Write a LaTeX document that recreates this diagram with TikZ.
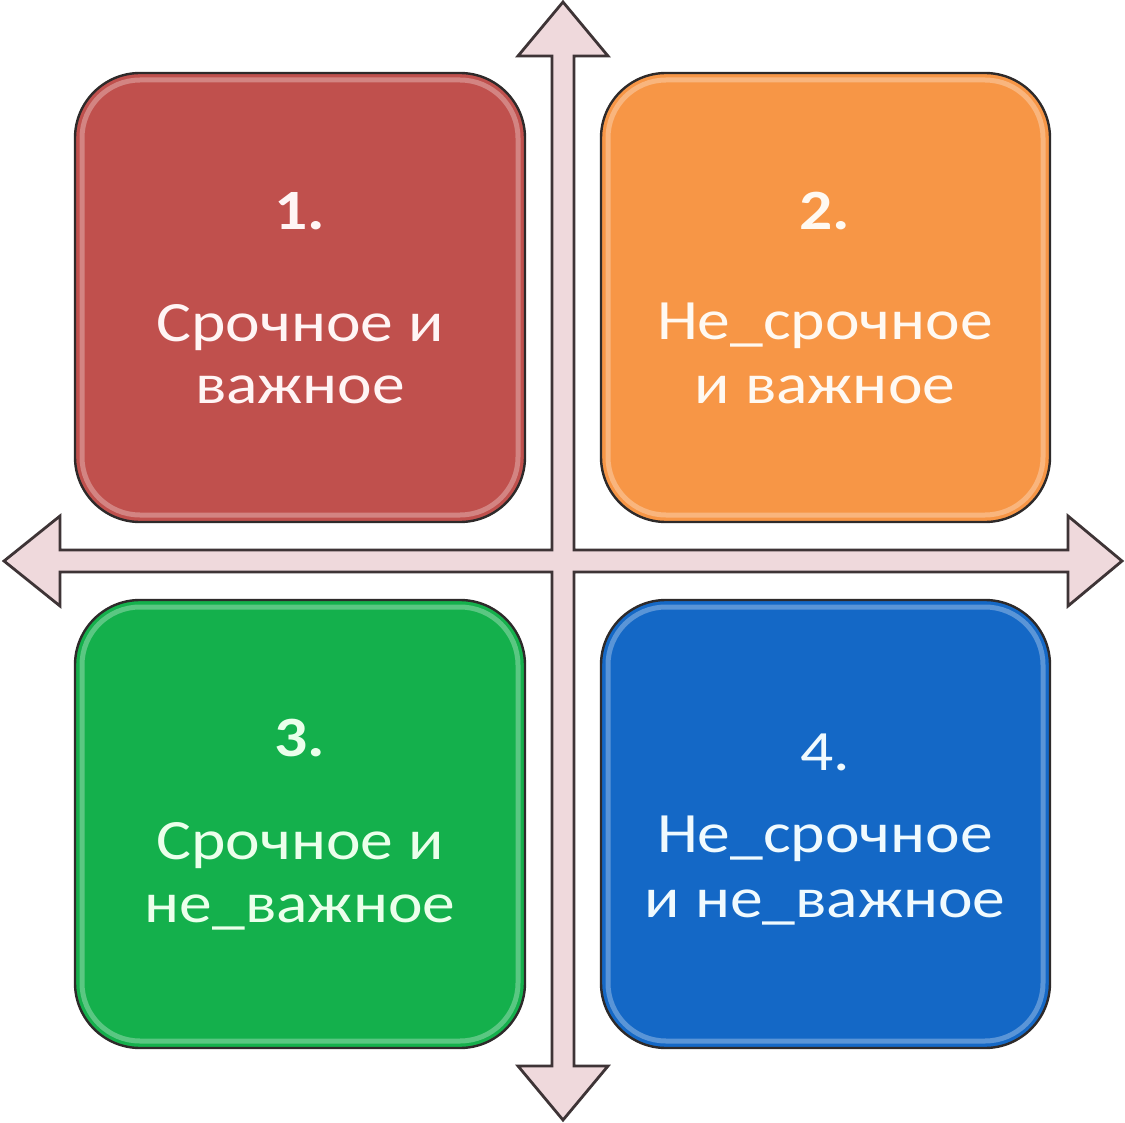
\documentclass[tikz,border=0pt]{standalone}
\usepackage{fontspec}
\newfontfamily\calf[FakeStretch=1.15]{Carlito}
\definecolor{redbox}{HTML}{C0504D}
\definecolor{orangebox}{HTML}{F79646}
\definecolor{greenbox}{HTML}{14B04C}
\definecolor{bluebox}{HTML}{1468C6}
\definecolor{axisfill}{HTML}{EFD9DC}
\definecolor{axisline}{HTML}{3E3436}
\definecolor{rimdark}{HTML}{2E2A2A}
\tikzset{
  quad/.style={draw=rimdark, line width=1.2pt, rounded corners=32.5pt},
  rim/.style={draw=white, draw opacity=0.3, line width=2.5pt, rounded corners=29pt},
  numtxt/.style={anchor=base, inner sep=0pt, font=\calf\fontsize{28.5}{33}\selectfont\bfseries},
  numtxtr/.style={anchor=base, inner sep=0pt, font=\calf\fontsize{28.5}{33}\selectfont},
  linetxt/.style={anchor=base, inner sep=0pt, font=\calf\fontsize{28.5}{33}\selectfont}
}
\begin{document}
\begin{tikzpicture}[x=0.5pt,y=-0.5pt]
\useasboundingbox (0,0) rectangle (1125,1123);
\fill[white] (0,0) rectangle (1125,1123);
% axes cross
\draw[axisline, fill=axisfill, line width=1.4pt, line join=miter]
  (563,2) -- (608,56) -- (574,56) -- (574,550) -- (1068,550) -- (1068,516)
  -- (1122,561) -- (1068,606) -- (1068,572) -- (574,572) -- (574,1066)
  -- (608,1066) -- (563,1120) -- (518,1066) -- (552,1066) -- (552,572)
  -- (60,572) -- (60,606) -- (4,561) -- (60,516) -- (60,550) -- (552,550)
  -- (552,56) -- (518,56) -- cycle;
% boxes
\path[quad, fill=redbox] (75,73) rectangle (525,522);
\path[rim] (82,80) rectangle (518,515);
\path[quad, fill=orangebox] (601,73) rectangle (1050,522);
\path[rim] (608,80) rectangle (1043,515);
\path[quad, fill=greenbox] (75,600) rectangle (525,1048);
\path[rim] (82,607) rectangle (518,1041);
\path[quad, fill=bluebox] (601,600) rectangle (1050,1048);
\path[rim] (608,607) rectangle (1043,1041);
% texts box 1
\node[numtxt, text=red!4!white] (n1) at (300,230) {1.};
\node[linetxt, text=red!4!white] (t1a) at (300,342) {Срочное и};
\node[linetxt, text=red!4!white] (t1b) at (300,403) {важное};
% box 2
\node[numtxt, text=orange!5!white] (n2) at (825,230) {2.};
\node[linetxt, text=orange!5!white] (t2a) at (825,340) {Не\_срочное};
\node[linetxt, text=orange!5!white] (t2b) at (825,403) {и важное};
% box 3
\node[numtxt, text=green!8!white] (n3) at (300,756) {3.};
\node[linetxt, text=green!8!white] (t3a) at (300,859) {Срочное и};
\node[linetxt, text=green!8!white] (t3b) at (300,922) {не\_важное};
% box 4
\node[numtxtr, text=cyan!6!white] (n4) at (825,770) {4.};
\node[linetxt, text=cyan!6!white] (t4a) at (825,852) {Не\_срочное};
\node[linetxt, text=cyan!6!white] (t4b) at (825,917) {и не\_важное};
\end{tikzpicture}
\end{document}
